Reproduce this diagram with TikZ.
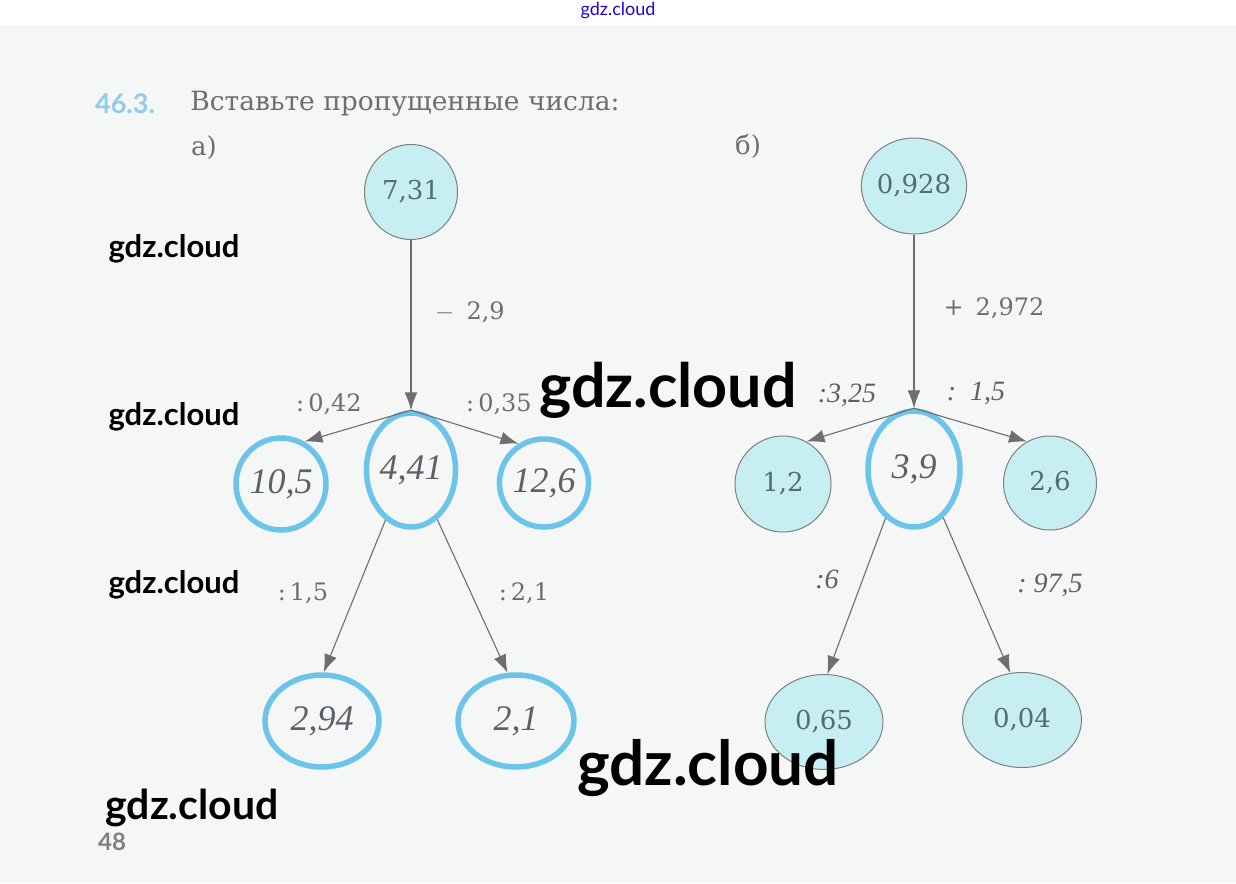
\documentclass[tikz,border=0pt]{standalone}
\usepackage{fontspec}
\setmainfont{DejaVu Serif}
\newfontfamily\latofont{Lato}
\newfontfamily\handfont{Liberation Serif}
\usepackage{xcolor}
\usetikzlibrary{arrows.meta,positioning,shapes.geometric}
\definecolor{pagebg}{HTML}{F5F6F6}
\definecolor{cellfill}{HTML}{C6EEF3}
\definecolor{ringblue}{HTML}{6CC4EA}
\definecolor{inkgray}{HTML}{6E6E6E}
\definecolor{numteal}{HTML}{4F6F73}
\definecolor{handgray}{HTML}{5C6168}
\definecolor{markblue}{HTML}{8FCBEA}

\begin{document}
\begin{tikzpicture}[x=1pt,y=-1pt,
  given/.style={ellipse,draw=gray,fill=cellfill,line width=1pt,inner sep=0pt,
    text=numteal,font=\fontsize{26}{30}\selectfont},
  found/.style={ellipse,draw=ringblue,line width=5.5pt,inner sep=0pt,
    text=handgray,font=\handfont\itshape\fontsize{36}{40}\selectfont},
  op/.style={text=inkgray,font=\fontsize{24}{28}\selectfont},
  handop/.style={text=handgray,font=\handfont\itshape\fontsize{28}{32}\selectfont},
  link/.style={draw=inkgray,line width=1.1pt,-{Latex[length=18pt,width=13pt]}},
  wmark/.style={text=black,font=\latofont\bfseries}]
  \useasboundingbox (0,0) rectangle (1236,883);
  \fill[white] (0,0) rectangle (1236,25);
  \fill[pagebg] (0,25) rectangle (1236,883);
  % heading
  \node[text=markblue,font=\latofont\bfseries\fontsize{27}{30}\selectfont] (num) at (125,104) {46.3.};
  \node[text=inkgray,font=\fontsize{26.5}{30}\selectfont] (task) at (405,104) {Вставьте пропущенные числа:};
  \node[text=inkgray,font=\fontsize{26}{30}\selectfont] (parta) at (204,148) {а)};
  \node[text=inkgray,font=\fontsize{26}{30}\selectfont] (partb) at (748,146) {б)};
  % tree a)
  \node[given,minimum width=93,minimum height=95] (a1) at (411,192) {7,31};
  \node[found,minimum width=89,minimum height=114] (a2) at (411,470) {4,41};
  \node[found,minimum width=90,minimum height=92] (a3) at (281,484) {10,5};
  \node[found,minimum width=89,minimum height=88] (a4) at (544,483) {12,6};
  \node[found,minimum width=114,minimum height=92] (a5) at (322,721) {2,94};
  \node[found,minimum width=116,minimum height=92] (a6) at (516,721) {2,1};
  \draw[link] (a1) -- (a2);
  \draw[link] (a2.north) -- (a3.61);
  \draw[link] (a2.north) -- (a4.123);
  \draw[link] (a2.243) -- (a5.88);
  \draw[link] (a2.298) -- (a6.100);
  \node[op] (a12) at (470,312) {$-$\enspace2,9};
  \node[op] (a23) at (329,404) {:\,0,42};
  \node[op] (a24) at (499,404) {:\,0,35};
  \node[op] (a25) at (303,593) {:\,1,5};
  \node[op] (a26) at (524,593) {:\,2,1};
  % tree b)
  \node[given,minimum width=95,minimum height=96] (b1) at (914,186) {0,928};
  \node[found,minimum width=92,minimum height=116] (b2) at (914,469) {3,9};
  \node[given,minimum width=96,minimum height=96] (b3) at (783,484) {1,2};
  \node[given,minimum width=93,minimum height=94] (b4) at (1050,483) {2,6};
  \node[given,minimum width=118,minimum height=95] (b5) at (824,722) {0,65};
  \node[given,minimum width=119,minimum height=95] (b6) at (1022,720) {0,04};
  \draw[link] (b1) -- (b2);
  \draw[link] (b2.north) -- (b3.61);
  \draw[link] (b2.north) -- (b4.119);
  \draw[link] (b2.240) -- (b5.86);
  \draw[link] (b2.301) -- (b6.104);
  \node[op] (b12) at (994,308) {+\enspace2,972};
  \node[handop] (b23) at (847,395) {:3,25};
  \node[handop] (b24) at (976,393) {:\ \ 1,5};
  \node[handop] (b25) at (827,579) {:6};
  \node[handop] (b26) at (1050,585) {:\ 97,5};
  % page number
  \node[text=gray,font=\latofont\bfseries\fontsize{24}{26}\selectfont] (page) at (112,842) {48};
  % watermarks
  \node[text=blue!70!violet,font=\latofont\fontsize{18}{20}\selectfont] (w0) at (618,11) {gdz.cloud};
  \node[wmark,font=\latofont\bfseries\fontsize{31}{34}\selectfont] (w1) at (174,249) {gdz.cloud};
  \node[wmark,font=\latofont\bfseries\fontsize{31}{34}\selectfont] (w2) at (174,417) {gdz.cloud};
  \node[wmark,font=\latofont\bfseries\fontsize{31}{34}\selectfont] (w3) at (174,585) {gdz.cloud};
  \node[wmark,font=\latofont\bfseries\fontsize{61}{64}\selectfont] (w4) at (668,390) {gdz.cloud};
  \node[wmark,font=\latofont\bfseries\fontsize{62}{64}\selectfont] (w5) at (708,768) {gdz.cloud};
  \node[wmark,font=\latofont\bfseries\fontsize{41}{44}\selectfont] (w6) at (192,808) {gdz.cloud};
\end{tikzpicture}
\end{document}
